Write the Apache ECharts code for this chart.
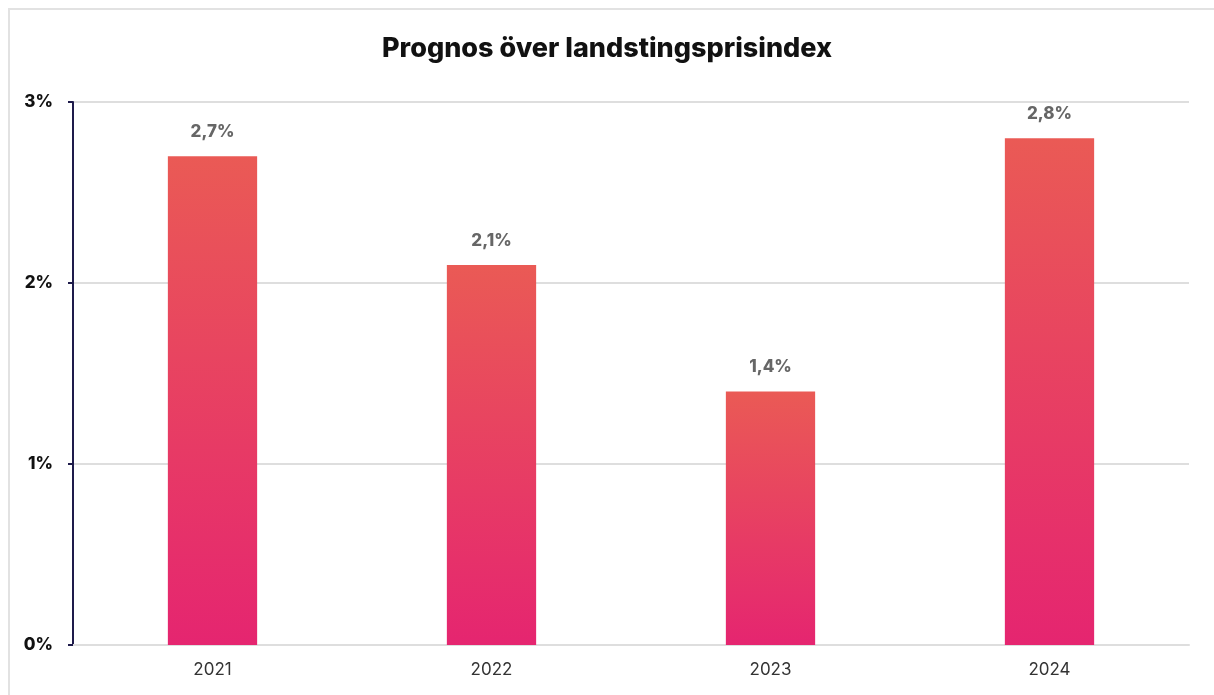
<!DOCTYPE html>
<html>
<head>
<meta charset="utf-8">
<script src="https://cdn.jsdelivr.net/npm/echarts@6/dist/echarts.min.js"></script>
<style>
  html, body { margin: 0; padding: 0; background: #fff; }
  #frame { position: absolute; left: 8px; top: 8px; width: 1220px; height: 700px; border: 2px solid #e2e2e2; box-sizing: border-box; }
  #chart { position: absolute; left: 0; top: 0; width: 1214px; height: 695px; }
</style>
</head>
<body>
<div id="frame"></div>
<div id="chart"></div>
<script>
var years = ['2021', '2022', '2023', '2024'];
var values = [2.7, 2.1, 1.4, 2.8];
var yTicks = [0, 1, 2, 3];

var chart = echarts.init(document.getElementById('chart'));

var barColor = new echarts.graphic.LinearGradient(0, 0, 0, 1, [
  { offset: 0, color: '#ea5a55' },
  { offset: 1, color: '#e52570' }
]);

var option = {
  animation: false,
  title: {
    text: 'Prognos över landstingsprisindex',
    left: 'center',
    top: 30,
    textStyle: { fontFamily: 'Inter', fontWeight: 800, fontSize: 27, color: '#111' }
  },
  grid: { left: 73, right: 25, top: 102, bottom: 50 },
  xAxis: {
    type: 'category',
    data: years,
    axisLine: { lineStyle: { color: '#dedede', width: 2 } },
    axisTick: { show: false },
    axisLabel: { fontFamily: 'Inter', fontSize: 17, color: '#333', margin: 16 }
  },
  yAxis: {
    type: 'value',
    min: yTicks[0],
    max: yTicks[yTicks.length - 1],
    interval: 1,
    axisLine: { show: true, lineStyle: { color: '#1e1b4b', width: 2 } },
    axisTick: { show: true, length: 5, lineStyle: { color: '#1e1b4b', width: 2 } },
    splitLine: { lineStyle: { color: '#dedede', width: 2 } },
    axisLabel: {
      fontFamily: 'Inter', fontWeight: 800, fontSize: 17, color: '#111', margin: 20,
      formatter: function (v) { return v + '%'; }
    }
  },
  series: [{
    type: 'bar',
    data: values,
    barWidth: '32%',
    itemStyle: { color: barColor },
    label: {
      show: true,
      position: 'top',
      distance: 16,
      fontFamily: 'Inter', fontWeight: 800, fontSize: 17, color: '#666',
      formatter: function (p) { return String(p.value).replace('.', ',') + '%'; }
    }
  }]
};

chart.setOption(option);
</script>
</body>
</html>
